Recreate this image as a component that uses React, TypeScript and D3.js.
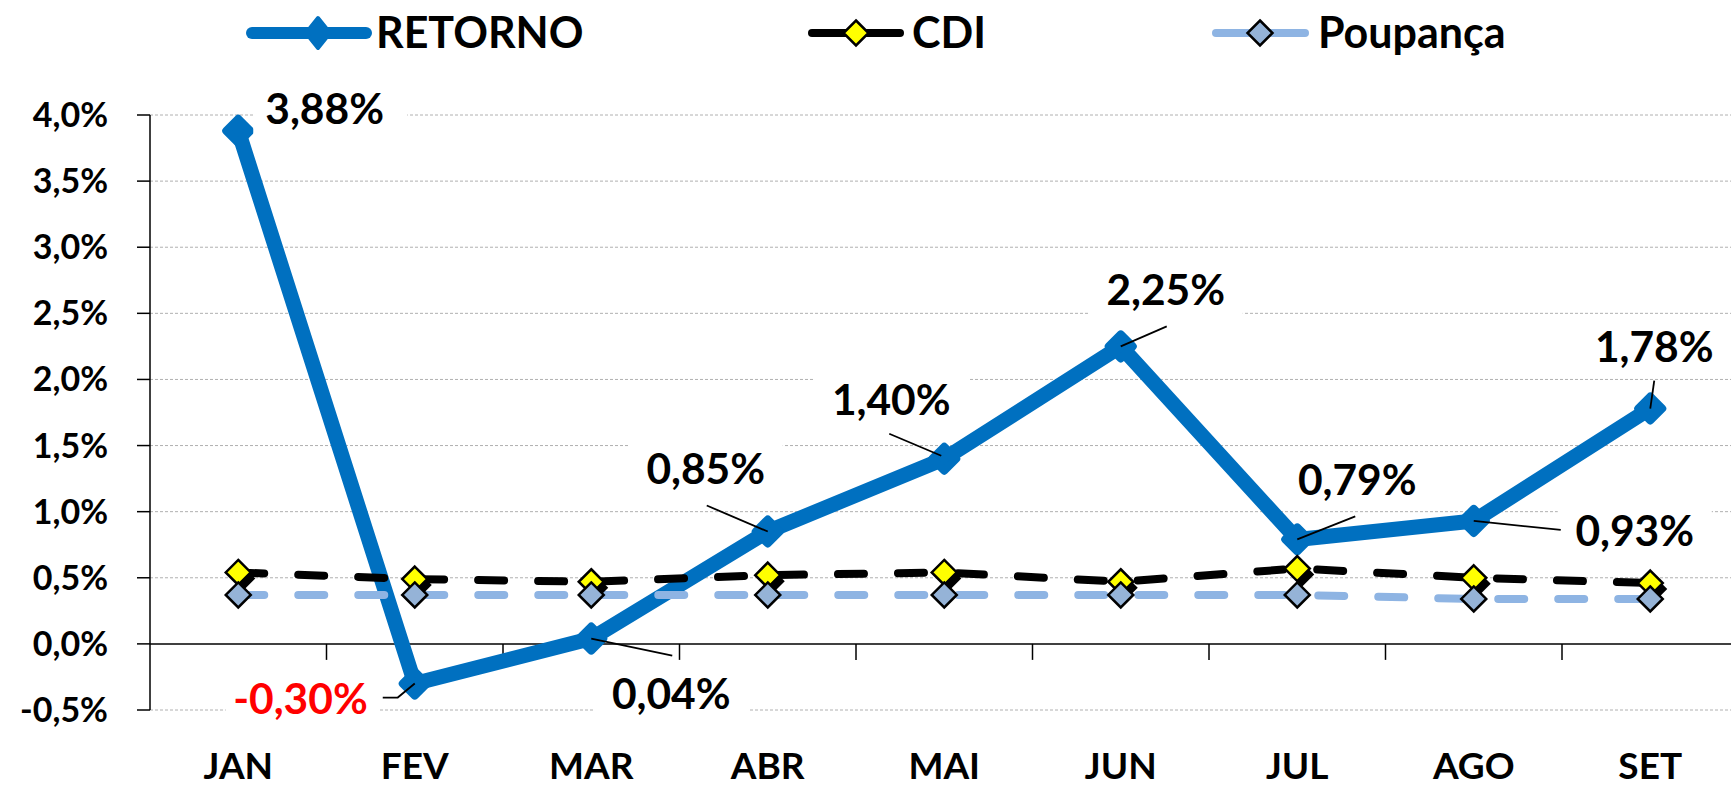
import React from 'react';
import * as d3 from 'd3';

// monthly returns, 2019 (%)
const months = ['JAN', 'FEV', 'MAR', 'ABR', 'MAI', 'JUN', 'JUL', 'AGO', 'SET'];
const retorno = [3.88, -0.3, 0.04, 0.85, 1.4, 2.25, 0.79, 0.93, 1.78];
const cdi = [0.54, 0.49, 0.47, 0.52, 0.54, 0.47, 0.57, 0.5, 0.46];
const poupanca = [0.37, 0.37, 0.37, 0.37, 0.37, 0.37, 0.37, 0.34, 0.34];
const yTicks = [-0.5, 0, 0.5, 1, 1.5, 2, 2.5, 3, 3.5, 4];

// where each RETORNO label sits relative to its point
const labelLayout = [
  { dx: 27, dy: -7, anchor: 'start', leader: null },
  { dx: -47, dy: 30, anchor: 'end', leader: [[-32, 14], [-17, 14], [0, 0]] },
  { dx: 80, dy: 70, anchor: 'middle', leader: [[0, 0], [81, 17]] },
  { dx: -62, dy: -48, anchor: 'middle', leader: [[-61, -26], [0, 0]] },
  { dx: -53, dy: -44, anchor: 'middle', leader: [[-55, -25], [-3, -3]] },
  { dx: 45, dy: -41, anchor: 'middle', leader: [[0, 0], [46, -20]] },
  { dx: 60, dy: -44, anchor: 'middle', leader: [[0, 0], [58, -23]] },
  { dx: 161, dy: 25, anchor: 'middle', leader: [[0, 0], [87, 9]] },
  { dx: 4, dy: -47, anchor: 'middle', leader: [[4, -28], [0, 0]] },
];

const W = 1731;
const H = 787;
const FONT = 'Lato, "Open Sans", sans-serif';
const BLUE = '#0070C0';
const LIGHT = '#8EB4E3';

const x = d3.scaleBand<string>().domain(months).range([150, 150 + 176.5 * months.length]);
const y = d3.scaleLinear().domain([-0.5, 4]).range([710, 115]);
const cx = (i: number) => (x(months[i]) as number) + x.bandwidth() / 2;

const pct2 = (v: number) => v.toFixed(2).replace('.', ',') + '%';
const pct1 = (v: number) => v.toFixed(1).replace('.', ',') + '%';

const diamond = (r: number) => `M0,${-r}L${r},0L0,${r}L${-r},0Z`;

const line = d3.line<number>().x((d, i) => cx(i)).y(d => y(d));

const App = () => {
  const plotRight = x.range()[1];
  const bands = months.slice(1).map(m => x(m) as number);

  return (
    <div style={{ position: 'absolute', left: 0, top: 0 }}>
      <svg width={W} height={H} style={{ display: 'block', background: '#fff' }} fontFamily={FONT} fontWeight={700}>
        {/* gridlines */}
        {yTicks.filter(t => t !== 0).map(t => (
          <line key={t} x1={150} x2={plotRight} y1={y(t)} y2={y(t)} stroke="#b0b0b0" strokeWidth={1} strokeDasharray="3,2" />
        ))}

        {/* axes */}
        <line x1={150} x2={150} y1={y(4)} y2={y(-0.5)} stroke="#000" strokeWidth={1.5} />
        {yTicks.map(t => (
          <line key={t} x1={137} x2={150} y1={y(t)} y2={y(t)} stroke="#000" strokeWidth={1.5} />
        ))}
        <line x1={150} x2={plotRight} y1={y(0)} y2={y(0)} stroke="#000" strokeWidth={1.5} />
        {bands.map(b => (
          <line key={b} x1={b} x2={b} y1={y(0)} y2={y(0) + 16} stroke="#000" strokeWidth={1.5} />
        ))}

        {/* RETORNO */}
        <path d={line(retorno) as string} fill="none" stroke={BLUE} strokeWidth={15} strokeLinejoin="round" />
        {retorno.map((v, i) => (
          <path key={i} d={diamond(12)} transform={`translate(${cx(i)},${y(v)})`} fill={BLUE} stroke={BLUE} strokeWidth={8} strokeLinejoin="round" />
        ))}

        {/* CDI and Poupança */}
        <path d={line(cdi) as string} fill="none" stroke="#000" strokeWidth={8} strokeDasharray="26,34" strokeLinecap="round" />
        <path d={line(poupanca) as string} fill="none" stroke={LIGHT} strokeWidth={8} strokeDasharray="26,34" strokeLinecap="round" />
        {cdi.map((v, i) => (
          <path key={'s' + i} d={diamond(12)} transform={`translate(${cx(i) + 5},${y(v) + 6})`} fill="#000" />
        ))}
        {cdi.map((v, i) => (
          <path key={i} d={diamond(12.5)} transform={`translate(${cx(i)},${y(v)})`} fill="#FFFF00" stroke="#000" strokeWidth={2.5} />
        ))}
        {poupanca.map((v, i) => (
          <path key={i} d={diamond(12.5)} transform={`translate(${cx(i)},${y(v)})`} fill="#95B3D7" stroke="#000" strokeWidth={2.5} />
        ))}

        {/* data labels */}
        {retorno.map((v, i) => {
          const L = labelLayout[i];
          const px = cx(i);
          const py = y(v);
          const w = 130;
          const left = L.anchor === 'start' ? px + L.dx : L.anchor === 'end' ? px + L.dx - w : px + L.dx - w / 2;
          return (
            <g key={i}>
              <rect x={left - 12} y={py + L.dy - 42} width={w + 24} height={52} fill="#fff" />
              {L.leader && (
                <polyline points={L.leader.map(p => `${px + p[0]},${py + p[1]}`).join(' ')} fill="none" stroke="#000" strokeWidth={1.8} />
              )}
              <text x={px + L.dx} y={py + L.dy} textAnchor={L.anchor} fontSize={42.5} fill={v < 0 ? '#FF0000' : '#000'}>
                {pct2(v)}
              </text>
            </g>
          );
        })}

        {/* y tick labels */}
        {yTicks.map(t => (
          <text key={t} x={108} y={y(t) + 12} textAnchor="end" fontSize={34} fill="#000">
            {pct1(t)}
          </text>
        ))}

        {/* category labels */}
        {months.map((m, i) => (
          <text key={m} x={cx(i)} y={779} textAnchor="middle" fontSize={37} fill="#000">
            {m}
          </text>
        ))}

        {/* legend */}
        <g>
          <line x1={252} x2={366} y1={33} y2={33} stroke={BLUE} strokeWidth={12} strokeLinecap="round" />
          <path d="M0,-15L12,0L0,15L-12,0Z" transform="translate(318,33)" fill={BLUE} stroke={BLUE} strokeWidth={4} strokeLinejoin="round" />
          <text x={376} y={48} fontSize={43} fill="#000">RETORNO</text>

          <line x1={812} x2={900} y1={33} y2={33} stroke="#000" strokeWidth={8} strokeLinecap="round" />
          <path d={diamond(12.5)} transform="translate(856,33)" fill="#FFFF00" stroke="#000" strokeWidth={2.5} />
          <text x={912} y={48} fontSize={43} fill="#000">CDI</text>

          <line x1={1216} x2={1305} y1={33} y2={33} stroke={LIGHT} strokeWidth={8} strokeLinecap="round" />
          <path d={diamond(12.5)} transform="translate(1260,33)" fill="#95B3D7" stroke="#000" strokeWidth={2.5} />
          <text x={1318} y={48} fontSize={43} fill="#000">Poupança</text>
        </g>
      </svg>
    </div>
  );
};

export default App;
